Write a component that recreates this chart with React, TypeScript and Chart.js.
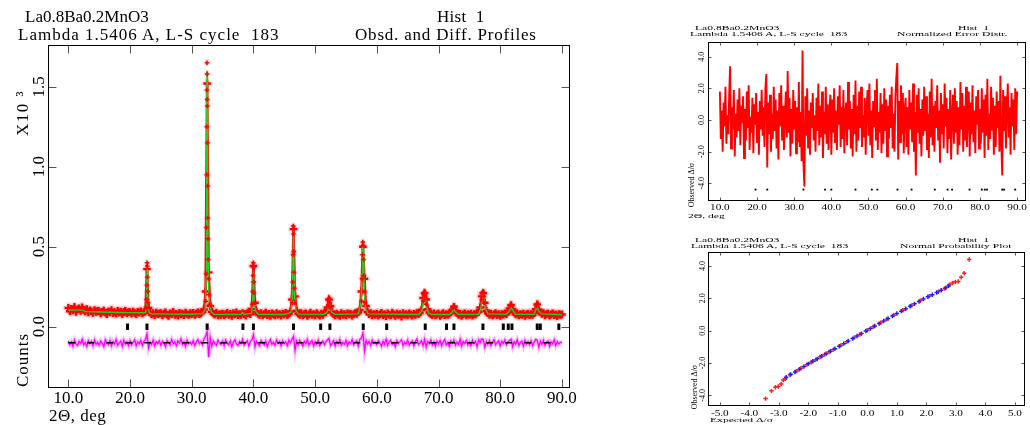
import React, { useEffect, useRef } from "react";
import { Chart, registerables } from "chart.js";

Chart.register(...registerables);

const SERIF = '"Liberation Serif", "Times New Roman", serif';

// ---------------- main panel data (2-theta in deg, counts in units of 10^3) ----------------
const X_MIN = 6.71;
const X_MAX = 91.31;
const Y_MIN = -0.383;
const Y_MAX = 1.761;
const xTickValues = [10, 20, 30, 40, 50, 60, 70, 80, 90];
const yTickValues = [0.0, 0.5, 1.0, 1.5];
const yTickLabels = ["0.0", "0.5", "1.0", "1.5"];

const OBS_START = 10.0;
const OBS_STEP = 0.25;
const obsCounts = [
  0.118, 0.097, 0.112, 0.101, 0.124, 0.093, 0.108, 0.115, 0.099, 0.121, 0.104, 0.095, 0.110, 0.089, 0.102, 0.097, 0.086, 0.105, 0.093, 0.099,
  0.098, 0.083, 0.094, 0.101, 0.087, 0.079, 0.096, 0.090, 0.104, 0.085, 0.092, 0.081, 0.099, 0.088, 0.095, 0.078, 0.093, 0.100, 0.084, 0.091,
  0.092, 0.081, 0.095, 0.086, 0.079, 0.093, 0.088, 0.097, 0.083, 0.091, 0.096, 0.360, 0.118, 0.088, 0.076, 0.085, 0.072, 0.089, 0.079, 0.083,
  0.086, 0.071, 0.082, 0.090, 0.075, 0.068, 0.084, 0.079, 0.093, 0.074, 0.081, 0.069, 0.087, 0.077, 0.083, 0.072, 0.089, 0.080, 0.074, 0.085,
  0.078, 0.087, 0.073, 0.082, 0.090, 0.079, 0.085, 0.094, 0.108, 0.220, 1.520, 0.340, 0.130, 0.094, 0.083, 0.076, 0.088, 0.071, 0.080, 0.074,
  0.083, 0.070, 0.079, 0.087, 0.073, 0.081, 0.068, 0.085, 0.076, 0.090, 0.072, 0.080, 0.074, 0.086, 0.079, 0.069, 0.084, 0.095, 0.078, 0.110,
  0.380, 0.150, 0.092, 0.081, 0.074, 0.086, 0.070, 0.079, 0.088, 0.072, 0.081, 0.067, 0.084, 0.077, 0.071, 0.085, 0.075, 0.080, 0.069, 0.083,
  0.076, 0.087, 0.072, 0.081, 0.095, 0.170, 0.610, 0.190, 0.100, 0.082, 0.074, 0.086, 0.070, 0.079, 0.084, 0.068, 0.077, 0.088, 0.073, 0.080,
  0.071, 0.085, 0.076, 0.069, 0.082, 0.074, 0.087, 0.090, 0.120, 0.170, 0.130, 0.092, 0.077, 0.070, 0.083, 0.075, 0.068, 0.086, 0.073, 0.079,
  0.070, 0.084, 0.076, 0.081, 0.069, 0.078, 0.086, 0.080, 0.091, 0.105, 0.220, 0.500, 0.300, 0.130, 0.092, 0.079, 0.085, 0.071, 0.080, 0.074,
  0.083, 0.069, 0.078, 0.087, 0.072, 0.080, 0.066, 0.084, 0.075, 0.070, 0.088, 0.077, 0.068, 0.082, 0.074, 0.079, 0.062, 0.085, 0.073, 0.080,
  0.071, 0.084, 0.076, 0.069, 0.081, 0.074, 0.086, 0.078, 0.088, 0.105, 0.180, 0.210, 0.170, 0.110, 0.088, 0.079, 0.072, 0.084, 0.070, 0.078,
  0.083, 0.068, 0.077, 0.085, 0.072, 0.080, 0.074, 0.082, 0.089, 0.105, 0.125, 0.100, 0.085, 0.073, 0.081, 0.067, 0.078, 0.084, 0.071, 0.079,
  0.074, 0.082, 0.069, 0.080, 0.076, 0.087, 0.093, 0.120, 0.190, 0.210, 0.150, 0.100, 0.084, 0.073, 0.081, 0.070, 0.077, 0.085, 0.072, 0.079,
  0.068, 0.080, 0.075, 0.084, 0.079, 0.092, 0.115, 0.135, 0.110, 0.090, 0.077, 0.084, 0.070, 0.079, 0.074, 0.083, 0.068, 0.077, 0.081, 0.072,
  0.080, 0.073, 0.085, 0.110, 0.140, 0.105, 0.092, 0.080, 0.086, 0.071, 0.079, 0.083, 0.069, 0.077, 0.084, 0.072, 0.078, 0.066, 0.080, 0.074,
  0.077,
];

// extra observed points recorded along the peak flanks
const peakObs2Theta = [
  22.66, 22.70, 22.73, 22.77, 22.80, 22.83, 22.87, 22.92, 22.98,
  32.30, 32.35, 32.39, 32.42, 32.44, 32.46, 32.48, 32.50, 32.52, 32.54, 32.56, 32.58, 32.61, 32.64, 32.68, 32.72, 32.80, 32.90,
  39.85, 39.90, 39.94, 39.98, 40.02, 40.06, 40.10, 40.16,
  46.32, 46.38, 46.42, 46.46, 46.50, 46.54, 46.58, 46.63, 46.70,
  52.15, 52.22, 52.30, 52.38, 52.45,
  57.55, 57.62, 57.68, 57.73, 57.78, 57.84, 57.90, 57.97, 58.05,
  67.55, 67.65, 67.72, 67.80, 67.90, 68.00,
  72.40, 72.55,
  77.00, 77.10, 77.20, 77.30, 77.40,
  81.65, 81.80,
  85.90, 86.05,
];
const peakObsCounts = [
  0.12, 0.17, 0.26, 0.40, 0.38, 0.31, 0.22, 0.15, 0.12,
  0.16, 0.33, 0.62, 0.95, 1.25, 1.48, 1.65, 1.58, 1.42, 1.38, 1.15, 0.88, 0.68, 0.55, 0.42, 0.30, 0.20, 0.14,
  0.14, 0.22, 0.32, 0.40, 0.37, 0.28, 0.21, 0.15,
  0.15, 0.28, 0.45, 0.63, 0.58, 0.47, 0.34, 0.24, 0.15,
  0.13, 0.16, 0.18, 0.15, 0.12,
  0.16, 0.30, 0.45, 0.53, 0.51, 0.42, 0.32, 0.22, 0.15,
  0.16, 0.20, 0.22, 0.20, 0.18, 0.14,
  0.12, 0.13,
  0.17, 0.21, 0.22, 0.19, 0.15,
  0.13, 0.14,
  0.13, 0.145,
];

// calculated profile
const calc2Theta = [
  10.0, 12.4, 12.7, 15.0, 18.0, 20.0, 22.0, 22.5, 22.65, 22.72, 22.77, 22.82, 22.88, 22.95, 23.1, 23.4, 26.0, 30.0,
  31.8, 32.2, 32.33, 32.40, 32.45, 32.48, 32.52, 32.55, 32.60, 32.66, 32.75, 32.9, 33.2, 33.6, 36.0, 38.0, 38.25, 38.5,
  39.7, 39.88, 39.96, 40.0, 40.05, 40.12, 40.3, 40.8, 45.0, 46.1, 46.3, 46.42, 46.47, 46.53, 46.6, 46.7, 46.9, 47.3,
  51.5, 52.0, 52.2, 52.3, 52.42, 52.7, 53.2, 57.0, 57.45, 57.62, 57.72, 57.80, 57.90, 58.0, 58.2, 58.6,
  66.8, 67.3, 67.55, 67.7, 67.85, 68.05, 68.4, 69.0, 71.8, 72.2, 72.45, 72.7, 73.2,
  76.5, 76.9, 77.15, 77.3, 77.55, 78.0, 81.0, 81.5, 81.75, 82.0, 82.5, 85.5, 85.85, 86.0, 86.2, 86.7, 90.0,
];
const calcCounts = [
  0.105, 0.104, 0.095, 0.092, 0.089, 0.088, 0.087, 0.088, 0.110, 0.200, 0.360, 0.330, 0.200, 0.120, 0.090, 0.081, 0.079, 0.078,
  0.082, 0.110, 0.300, 0.750, 1.350, 1.600, 1.480, 1.300, 0.800, 0.450, 0.240, 0.130, 0.090, 0.078, 0.076, 0.077, 0.090, 0.077,
  0.085, 0.150, 0.300, 0.340, 0.300, 0.170, 0.100, 0.078, 0.076, 0.090, 0.180, 0.450, 0.600, 0.520, 0.320, 0.170, 0.100, 0.079,
  0.077, 0.095, 0.140, 0.155, 0.130, 0.090, 0.077, 0.080, 0.150, 0.330, 0.500, 0.480, 0.330, 0.200, 0.110, 0.080,
  0.076, 0.100, 0.170, 0.210, 0.190, 0.130, 0.085, 0.076, 0.076, 0.090, 0.110, 0.095, 0.077,
  0.078, 0.120, 0.210, 0.190, 0.120, 0.080, 0.077, 0.100, 0.125, 0.105, 0.078, 0.077, 0.115, 0.130, 0.100, 0.080, 0.075,
];

// difference curve (obs - calc), drawn offset below the pattern
const diffCounts = [
  -0.088, -0.112, -0.095, -0.121, -0.084, -0.108, -0.117, -0.091, -0.103, -0.079, -0.114, -0.098, -0.123, -0.087, -0.106, -0.092, -0.118, -0.083, -0.110, -0.097,
  -0.115, -0.089, -0.104, -0.124, -0.081, -0.099, -0.112, -0.086, -0.120, -0.093, -0.107, -0.080, -0.116, -0.101, -0.090, -0.122, -0.085, -0.109, -0.095, -0.118,
  -0.087, -0.113, -0.098, -0.082, -0.119, -0.094, -0.108, -0.085, -0.117, -0.092, -0.081, -0.045, -0.132, -0.096, -0.110, -0.084, -0.121, -0.093, -0.105, -0.088,
  -0.116, -0.091, -0.103, -0.125, -0.086, -0.099, -0.114, -0.080, -0.107, -0.093, -0.119, -0.088, -0.101, -0.076, -0.112, -0.095, -0.123, -0.084, -0.106, -0.097,
  -0.110, -0.087, -0.118, -0.094, -0.081, -0.106, -0.092, -0.113, -0.075, -0.060, -0.030, -0.190, -0.068, -0.122, -0.089, -0.104, -0.116, -0.085, -0.099, -0.111,
  -0.090, -0.119, -0.083, -0.102, -0.113, -0.088, -0.124, -0.096, -0.081, -0.108, -0.117, -0.092, -0.104, -0.078, -0.114, -0.099, -0.087, -0.120, -0.093, -0.082,
  -0.050, -0.125, -0.091, -0.107, -0.118, -0.086, -0.101, -0.114, -0.089, -0.123, -0.095, -0.080, -0.110, -0.097, -0.116, -0.084, -0.105, -0.092, -0.119, -0.088,
  -0.106, -0.094, -0.117, -0.083, -0.099, -0.078, -0.060, -0.148, -0.090, -0.112, -0.085, -0.103, -0.121, -0.091, -0.108, -0.079, -0.115, -0.096, -0.087, -0.120,
  -0.093, -0.109, -0.084, -0.118, -0.100, -0.089, -0.113, -0.095, -0.082, -0.072, -0.118, -0.104, -0.087, -0.121, -0.092, -0.106, -0.080, -0.115, -0.098, -0.110,
  -0.086, -0.119, -0.094, -0.103, -0.081, -0.112, -0.097, -0.088, -0.120, -0.079, -0.070, -0.040, -0.150, -0.085, -0.109, -0.092, -0.117, -0.083, -0.104, -0.096,
  -0.113, -0.087, -0.101, -0.122, -0.090, -0.108, -0.079, -0.116, -0.094, -0.085, -0.111, -0.099, -0.124, -0.088, -0.105, -0.093, -0.082, -0.118, -0.097, -0.109,
  -0.084, -0.115, -0.098, -0.089, -0.120, -0.093, -0.076, -0.110, -0.101, -0.087, -0.118, -0.078, -0.126, -0.092, -0.106, -0.083, -0.114, -0.095, -0.121, -0.090,
  -0.107, -0.086, -0.119, -0.094, -0.080, -0.112, -0.098, -0.123, -0.089, -0.104, -0.083, -0.116, -0.096, -0.109, -0.078, -0.121, -0.092, -0.105, -0.087, -0.113,
  -0.095, -0.118, -0.084, -0.106, -0.091, -0.124, -0.082, -0.099, -0.076, -0.080, -0.128, -0.093, -0.110, -0.087, -0.117, -0.096, -0.081, -0.113, -0.100, -0.088,
  -0.119, -0.092, -0.105, -0.083, -0.114, -0.097, -0.086, -0.078, -0.125, -0.094, -0.108, -0.081, -0.116, -0.099, -0.090, -0.121, -0.085, -0.107, -0.093, -0.112,
  -0.087, -0.118, -0.096, -0.079, -0.083, -0.127, -0.091, -0.110, -0.085, -0.115, -0.098, -0.089, -0.122, -0.094, -0.106, -0.082, -0.117, -0.093, -0.108, -0.097,
  -0.101,
];
const DIFF_ZERO = -0.1;

// reflection positions (deg 2-theta)
const reflections = [
  19.6, 22.75, 32.5, 38.3, 40.0, 46.5, 50.9, 52.4, 57.8, 61.6, 67.85,
  71.3, 72.5, 77.2, 80.5, 81.3, 81.9, 86.0, 86.5, 89.5,
];
const REFL_LEVEL = 0.0;

// ---------------- normalized error distribution ----------------
const ERR_X_MIN = 6.8;
const ERR_X_MAX = 92.4;
const ERR_Y_MIN = -5.12;
const ERR_Y_MAX = 4.93;
const errXTicks = [10, 20, 30, 40, 50, 60, 70, 80, 90];
const errYTicks = [4, 2, 0, -2, -4];
const errYLabels = ["4.0", "2.0", "0.0", "-2.0", "-4.0"];
const ERR_START = 10.0;
const ERR_STEP = 0.25;
const errorDistr = [
  1.8, -1.2, 0.6, -2.0, 1.1, -0.4, 2.1, -1.5, 0.3, -0.9, 1.6, 3.4, -1.8, 0.8, -0.6, 1.9, -2.3, 0.4, -1.1, 1.3,
  -0.7, 2.0, -1.6, 0.9, -0.2, 1.5, -2.4, 0.7, -1.3, 1.8, -0.5, 2.2, -1.9, 0.2, -0.8, 1.4, -2.1, 1.0, -0.3, 1.7,
  -1.4, 0.5, -2.2, 1.2, -0.6, 1.9, -1.0, 0.8, -1.7, 2.0, 2.9, -3.0, 1.1, -0.9, 1.6, -2.0, 0.4, -1.2, 2.1, -0.7,
  1.3, -1.8, 0.6, -2.5, 1.7, -0.4, 2.2, -1.3, 0.9, -1.9, 0.2, 1.8, -1.1, 3.1, -0.8, 1.4, -2.3, 0.7, -1.5, 1.9,
  -0.6, 1.2, -2.1, 0.8, -1.4, 2.4, -1.7, 0.5, -2.6, 4.4, -2.8, -4.2, 1.5, -1.0, 2.0, -1.8, 0.6, -2.2, 1.1, -0.5,
  1.7, -1.3, 0.3, -2.0, 1.4, -0.7, 2.3, -1.6, 0.9, -1.1, 1.8, -2.4, 0.5, -0.9, 2.1, -1.5, 1.0, -1.9, 0.7, 1.6,
  -2.2, 1.3, -0.8, 2.0, -1.4, 0.6, -1.9, 1.5, -0.3, 2.2, -1.7, 0.8, -1.2, 1.9, -2.1, 0.4, 1.1, -1.6, 2.4, -0.6,
  1.2, -1.8, 0.7, -2.3, 1.6, -0.9, 2.5, -2.0, 0.9, -1.3, 1.8, -0.5, 2.1, -1.7, 0.3, -1.1, 1.4, -2.2, 0.8, 1.9,
  -1.0, 2.3, -1.6, 0.6, -2.4, 1.2, -0.4, 1.9, -1.3, 2.6, -1.9, 0.5, -0.8, 1.7, -2.1, 1.0, -1.5, 2.0, -0.7, 1.3,
  -2.3, 0.9, -1.2, 1.6, -0.5, 2.1, -1.8, 0.4, -2.0, 1.5, 2.7, 3.6, -2.5, 1.2, -1.4, 2.2, -0.9, 1.7, -2.1, 0.6,
  1.4, -1.7, 0.8, -2.2, 1.9, -0.6, 1.1, -1.4, 2.3, -2.0, 0.5, -3.5, 1.6, -0.8, 2.0, -1.5, 0.7, -2.3, 1.3, -1.0,
  2.1, -0.7, 1.5, -1.9, 0.4, -2.4, 1.8, -1.1, 2.6, -1.6, 0.9, -2.0, 1.2, -0.5, 2.2, -1.3, 0.6, -2.7, 1.7, -0.9,
  1.0, -1.8, 2.3, -0.4, 1.4, -2.1, 0.7, -1.2, 1.9, -2.5, 0.3, 1.6, -1.5, 2.0, -0.8, 1.2, -2.2, 0.8, -1.6, 2.4,
  -0.6, 1.7, -2.0, 0.9, -1.3, 2.1, -1.7, 0.5, 1.8, -2.3, 1.1, -0.9, 2.2, -1.4, 0.6, -2.1, 1.5, -0.3, 1.9, -1.8,
  0.7, -1.5, 2.0, -0.8, 1.3, -2.4, 1.6, -1.0, 2.6, -1.9, 0.4, -1.2, 2.1, -0.6, 1.4, -2.2, 0.9, -1.7, 1.8, -0.5,
  1.2, -2.0, 2.8, -1.4, -3.5, 1.9, -0.7, 1.5, -1.8, 0.6, 2.3, -1.1, 0.8, -2.2, 1.7, -0.4, 1.3, -1.9, 2.0, -0.9,
  1.8,
];
const ERR_MARK_LEVEL = -4.4;

// ---------------- normal probability plot ----------------
const PROB_X_MIN = -5.4;
const PROB_X_MAX = 5.324;
const PROB_Y_MIN = -4.657;
const PROB_Y_MAX = 4.867;
const probXTicks = [-5, -4, -3, -2, -1, 0, 1, 2, 3, 4, 5];
const probXLabels = ["-5.0", "-4.0", "-3.0", "-2.0", "-1.0", "0.0", "1.0", "2.0", "3.0", "4.0", "5.0"];
const probYTicks = [4, 2, 0, -2, -4];
const probYLabels = ["4.0", "2.0", "0.0", "-2.0", "-4.0"];
const probBlueExpected = [
  -2.75, -2.6, -2.45, -2.3, -2.15, -2.0, -1.85, -1.7, -1.55, -1.4, -1.25, -1.1, -0.95, -0.8, -0.65, -0.5, -0.35, -0.2, -0.05,
  0.1, 0.25, 0.4, 0.55, 0.7, 0.85, 1.0, 1.15, 1.3, 1.45, 1.6, 1.75, 1.9, 2.05, 2.2, 2.35, 2.5, 2.65, 2.75,
];
const probBlueObserved = [
  -2.88, -2.70, -2.55, -2.38, -2.22, -2.05, -1.89, -1.74, -1.58, -1.42, -1.27, -1.11, -0.96, -0.80, -0.64, -0.49, -0.33, -0.18, -0.02,
  0.13, 0.29, 0.44, 0.60, 0.75, 0.91, 1.06, 1.21, 1.36, 1.51, 1.66, 1.81, 1.96, 2.10, 2.22, 2.36, 2.50, 2.65, 2.77,
];
const probRedExpected = [
  -3.45, -3.25, -3.12, -3.02, -2.92, -2.85, -2.78, -2.62, -2.4, -2.25, -2.05, -1.9, -1.75, -1.6, -1.45, -1.3, -1.15, -0.9, -0.7,
  -0.45, -0.25, 0.0, 0.2, 0.45, 0.65, 0.9, 1.2, 1.5, 1.8, 2.1, 2.4, 2.62, 2.78, 2.88, 2.98, 3.08, 3.18, 3.28, 3.45,
];
const probRedObserved = [
  -4.20, -3.72, -3.50, -3.45, -3.30, -3.05, -2.98, -2.74, -2.50, -2.32, -2.10, -1.95, -1.80, -1.63, -1.47, -1.32, -1.17, -0.91, -0.69,
  -0.43, -0.23, 0.03, 0.24, 0.49, 0.70, 0.96, 1.26, 1.56, 1.86, 2.14, 2.41, 2.60, 2.84, 2.95, 3.02, 3.05, 3.30, 3.55, 4.40,
];

// ---------------- helpers ----------------
type LabelSet = { values: number[]; texts: string[]; size: number; pos: number; sx?: number };
type FrameCfg = {
  xTicks: number[];
  yTicks: number[];
  tickLen: number;
  tickColor: string;
  xLabels?: LabelSet;
  yLabels?: LabelSet;
};

function makeFrame(cfg: FrameCfg) {
  return {
    id: "gsasFrame",
    afterDraw(chart: any) {
      const { ctx, chartArea: a } = chart;
      const xs = chart.scales.x;
      const ys = chart.scales.y;
      const L = Math.round(a.left) + 0.5;
      const R = Math.round(a.right) - 0.5;
      const T = Math.round(a.top) + 0.5;
      const B = Math.round(a.bottom) - 0.5;
      ctx.save();
      ctx.lineWidth = 1;
      ctx.strokeStyle = cfg.tickColor;
      ctx.beginPath();
      for (const v of cfg.xTicks) {
        const x = Math.round(xs.getPixelForValue(v)) + 0.5;
        ctx.moveTo(x, B);
        ctx.lineTo(x, B - cfg.tickLen);
        ctx.moveTo(x, T);
        ctx.lineTo(x, T + cfg.tickLen);
      }
      for (const v of cfg.yTicks) {
        const y = Math.round(ys.getPixelForValue(v)) + 0.5;
        ctx.moveTo(L, y);
        ctx.lineTo(L + cfg.tickLen, y);
        ctx.moveTo(R, y);
        ctx.lineTo(R - cfg.tickLen, y);
      }
      ctx.stroke();
      ctx.strokeStyle = "#000";
      ctx.strokeRect(L, T, R - L, B - T);
      ctx.fillStyle = "#000";
      if (cfg.xLabels) {
        const s = cfg.xLabels;
        ctx.font = `${s.size}px ${SERIF}`;
        ctx.textAlign = "center";
        ctx.textBaseline = "alphabetic";
        s.values.forEach((v, i) => {
          const x = xs.getPixelForValue(v);
          ctx.save();
          ctx.translate(x, s.pos);
          ctx.scale(s.sx ?? 1, 1);
          ctx.fillText(s.texts[i], 0, 0);
          ctx.restore();
        });
      }
      if (cfg.yLabels) {
        const s = cfg.yLabels;
        ctx.font = `${s.size}px ${SERIF}`;
        ctx.textAlign = "center";
        ctx.textBaseline = "middle";
        s.values.forEach((v, i) => {
          const y = ys.getPixelForValue(v);
          ctx.save();
          ctx.translate(s.pos, y);
          ctx.rotate(-Math.PI / 2);
          ctx.fillText(s.texts[i], 0, 0);
          ctx.restore();
        });
      }
      ctx.restore();
    },
  };
}

const gridPoints = (vals: number[], start: number, step: number) =>
  vals.map((y, i) => ({ x: start + i * step, y }));
const pairPoints = (xs: number[], ys: number[]) => xs.map((x, i) => ({ x, y: ys[i] }));

const baseOptions = (padding: any) => ({
  responsive: false,
  maintainAspectRatio: false,
  animation: false as const,
  events: [] as any[],
  layout: { padding },
  plugins: { legend: { display: false }, tooltip: { enabled: false } },
});

function mainConfig(): any {
  const obsGrid = gridPoints(obsCounts, OBS_START, OBS_STEP);
  const obsPeaks = pairPoints(peakObs2Theta, peakObsCounts);
  const diff = gridPoints(diffCounts, OBS_START, OBS_STEP);
  return {
    type: "scatter",
    data: {
      datasets: [
        { data: obsGrid, pointStyle: "cross", pointRadius: 5.5, borderWidth: 4, pointBorderWidth: 4, borderColor: "rgba(255,70,70,0.2)", order: 32 },
        { data: obsPeaks, pointStyle: "cross", pointRadius: 3.5, borderWidth: 3, pointBorderWidth: 3, borderColor: "rgba(255,70,70,0.2)", order: 31 },
        { data: obsGrid, showLine: true, pointRadius: 0, borderColor: "#ff1010", borderWidth: 2.6, order: 30 },
        { data: obsGrid, pointStyle: "cross", pointRadius: 3.8, borderWidth: 2.4, pointBorderWidth: 2.4, borderColor: "#ff0000", order: 29 },
        { data: pairPoints(calc2Theta, calcCounts), showLine: true, pointRadius: 0, borderColor: "#1ed21e", borderWidth: 1.4, order: 20 },
        { data: obsPeaks, pointStyle: "cross", pointRadius: 2.2, borderWidth: 1.5, pointBorderWidth: 1.5, borderColor: "#ff0000", order: 15 },
        { data: diff, showLine: true, pointRadius: 0, borderColor: "rgba(255,0,255,0.3)", borderWidth: 3.5, order: 12 },
        { data: diff, showLine: true, pointRadius: 0, borderColor: "#ff00ff", borderWidth: 1.3, order: 11 },
        { data: [{ x: OBS_START, y: DIFF_ZERO }, { x: 90, y: DIFF_ZERO }], showLine: true, pointRadius: 0, borderColor: "#000", borderWidth: 1.5, borderDash: [7, 12], order: 5 },
        { data: reflections.map((x) => ({ x, y: REFL_LEVEL })), pointStyle: "line", pointRotation: 90, pointRadius: 3.2, borderWidth: 3, pointBorderWidth: 3, borderColor: "#000", order: 1 },
      ],
    },
    options: {
      ...baseOptions({ left: 48, top: 45, right: 30, bottom: 0 }),
      scales: {
        x: {
          type: "linear",
          min: X_MIN,
          max: X_MAX,
          afterBuildTicks: (s: any) => {
            s.ticks = xTickValues.map((v) => ({ value: v }));
          },
          afterFit: (s: any) => {
            s.height = 37;
          },
          ticks: {
            color: "#000",
            padding: 0,
            maxRotation: 0,
            minRotation: 0,
            autoSkip: false,
            font: { family: SERIF, size: 17 },
            callback: (v: any) => Number(v).toFixed(1),
          },
          grid: { display: false, drawTicks: false },
          border: { display: false },
        },
        y: { type: "linear", display: false, min: Y_MIN, max: Y_MAX },
      },
    },
    plugins: [
      makeFrame({
        xTicks: xTickValues,
        yTicks: yTickValues,
        tickLen: 8,
        tickColor: "#555",
        yLabels: { values: yTickValues, texts: yTickLabels, size: 17, pos: 40 },
      }),
    ],
  };
}

function errConfig(): any {
  return {
    type: "scatter",
    data: {
      datasets: [
        { data: gridPoints(errorDistr, ERR_START, ERR_STEP), showLine: true, pointRadius: 0, borderColor: "#ff0000", borderWidth: 1.9, order: 5 },
        { data: reflections.map((x) => ({ x, y: ERR_MARK_LEVEL })), pointStyle: "rect", pointRadius: 1.3, backgroundColor: "#000", borderColor: "#000", borderWidth: 0, order: 1 },
      ],
    },
    options: {
      ...baseOptions({ left: 28, top: 42, right: 1, bottom: 29 }),
      scales: {
        x: { type: "linear", display: false, min: ERR_X_MIN, max: ERR_X_MAX },
        y: { type: "linear", display: false, min: ERR_Y_MIN, max: ERR_Y_MAX },
      },
    },
    plugins: [
      makeFrame({
        xTicks: errXTicks,
        yTicks: errYTicks,
        tickLen: 3,
        tickColor: "#555",
        xLabels: { values: errXTicks, texts: errXTicks.map((v) => v.toFixed(1)), size: 8, pos: 210, sx: 1.4 },
        yLabels: { values: errYTicks, texts: errYLabels, size: 8, pos: 22 },
      }),
    ],
  };
}

function probConfig(): any {
  return {
    type: "scatter",
    data: {
      datasets: [
        { data: pairPoints(probBlueExpected, probBlueObserved), pointStyle: "cross", pointRadius: 2.2, borderWidth: 1.5, pointBorderWidth: 1.5, borderColor: "#2020ff", order: 2 },
        { data: pairPoints(probRedExpected, probRedObserved), pointStyle: "cross", pointRadius: 2.2, borderWidth: 1.5, pointBorderWidth: 1.5, borderColor: "#ff2020", order: 3 },
      ],
    },
    options: {
      ...baseOptions({ left: 28, top: 22, right: 1, bottom: 19 }),
      scales: {
        x: { type: "linear", display: false, min: PROB_X_MIN, max: PROB_X_MAX },
        y: { type: "linear", display: false, min: PROB_Y_MIN, max: PROB_Y_MAX },
      },
    },
    plugins: [
      makeFrame({
        xTicks: probXTicks,
        yTicks: probYTicks,
        tickLen: 3,
        tickColor: "#555",
        xLabels: { values: probXTicks, texts: probXLabels, size: 8, pos: 185.5, sx: 1.4 },
        yLabels: { values: probYTicks, texts: probYLabels, size: 8, pos: 23 },
      }),
    ],
  };
}

function Label(props: { x: number; baseline: number; size: number; text: string; ls?: number; sx?: number; sy?: number }) {
  const { x, baseline, size, text, ls = 0, sx = 1, sy = 1 } = props;
  return (
    <span
      style={{
        position: "absolute",
        left: x,
        top: baseline - 0.8375 * size * sy,
        fontSize: size,
        lineHeight: `${size}px`,
        whiteSpace: "pre",
        letterSpacing: ls,
        transform: sx !== 1 || sy !== 1 ? `scale(${sx}, ${sy})` : undefined,
        transformOrigin: "0 0",
      }}
    >
      {text}
    </span>
  );
}

function VLabel(props: { cx: number; cy: number; size: number; text: string; ls?: number }) {
  const { cx, cy, size, text, ls = 0 } = props;
  return (
    <span
      style={{
        position: "absolute",
        left: cx,
        top: cy,
        fontSize: size,
        lineHeight: `${size}px`,
        whiteSpace: "pre",
        letterSpacing: ls,
        transform: "translate(-50%, -50%) rotate(-90deg)",
      }}
    >
      {text}
    </span>
  );
}

export default function App() {
  const mainRef = useRef<HTMLCanvasElement>(null);
  const errRef = useRef<HTMLCanvasElement>(null);
  const probRef = useRef<HTMLCanvasElement>(null);

  useEffect(() => {
    const charts = [
      new Chart(mainRef.current as HTMLCanvasElement, mainConfig()),
      new Chart(errRef.current as HTMLCanvasElement, errConfig()),
      new Chart(probRef.current as HTMLCanvasElement, probConfig()),
    ];
    return () => charts.forEach((c) => c.destroy());
  }, []);

  const small = 8;
  const sx = 1.45;
  const sy = 0.75;
  return (
    <div
      style={{
        position: "absolute",
        left: 0,
        top: 0,
        width: 1030,
        height: 425,
        background: "#fff",
        overflow: "hidden",
        fontFamily: SERIF,
        color: "#000",
      }}
    >
      <canvas ref={mainRef} width={600} height={425} style={{ position: "absolute", left: 0, top: 0 }} />
      <canvas ref={errRef} width={350} height={230} style={{ position: "absolute", left: 680, top: 0 }} />
      <canvas ref={probRef} width={350} height={195} style={{ position: "absolute", left: 680, top: 230 }} />

      {/* main panel texts */}
      <Label x={25} baseline={22} size={17} text="La0.8Ba0.2MnO3" />
      <Label x={437} baseline={22} size={17} text="Hist  1" ls={0.3} />
      <Label x={18} baseline={40} size={17} text="Lambda 1.5406 A, L-S cycle  183" ls={1.0} />
      <Label x={355} baseline={40} size={17} text="Obsd. and Diff. Profiles" ls={0.8} />
      <VLabel cx={22} cy={113} size={17} text="X10 ³" ls={1.5} />
      <VLabel cx={22} cy={360} size={17} text="Counts" ls={1} />
      <Label x={49} baseline={421} size={17} text="2Θ, deg" ls={0.5} />

      {/* error distribution texts */}
      <Label x={695} baseline={30.5} size={small} sx={sx} sy={sy} text="La0.8Ba0.2MnO3" />
      <Label x={958} baseline={30.5} size={small} sx={sx} sy={sy} text="Hist  1" />
      <Label x={690} baseline={36.5} size={small} sx={sx} sy={sy} text="Lambda 1.5406 A, L-S cycle  183" />
      <Label x={897} baseline={36.5} size={small} sx={sx} sy={sy} text="Normalized Error Distr." />
      <Label x={688} baseline={218} size={small} sx={sx} sy={sy} text="2Θ, deg" />
      <VLabel cx={692} cy={185} size={small} text="Observed Δ/σ" />

      {/* normal probability texts */}
      <Label x={695} baseline={242.5} size={small} sx={sx} sy={sy} text="La0.8Ba0.2MnO3" />
      <Label x={958} baseline={242.5} size={small} sx={sx} sy={sy} text="Hist  1" />
      <Label x={691} baseline={248.5} size={small} sx={sx} sy={sy} text="Lambda 1.5406 A, L-S cycle  183" />
      <Label x={900} baseline={248.5} size={small} sx={sx} sy={sy} text="Normal Probability Plot" />
      <Label x={710} baseline={422} size={small} sx={sx} sy={sy} text="Expected Δ/σ" />
      <VLabel cx={695} cy={387} size={small} text="Observed Δ/σ" />
    </div>
  );
}
